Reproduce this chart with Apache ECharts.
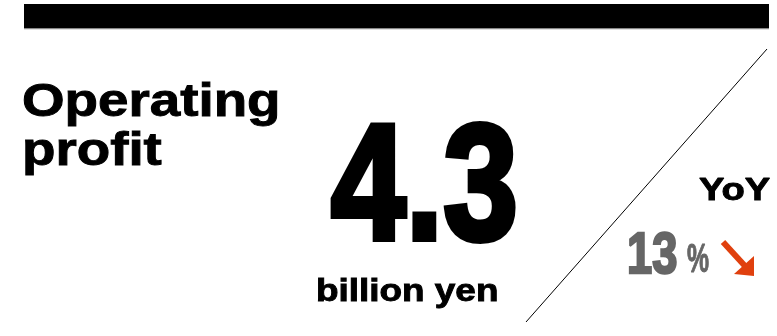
<!DOCTYPE html>
<html>
<head>
<meta charset="utf-8">
<script src="https://cdn.jsdelivr.net/npm/echarts@6/dist/echarts.min.js"></script>
<style>
html,body{margin:0;padding:0;background:#fff;}
#chart{width:777px;height:336px;}
</style>
</head>
<body>
<div id="chart"></div>
<script>
// Data
const titleLines = ['Operating', 'profit'];
const mainValue = [4.3];
const unitLabel = ['billion yen'];
const yoyLabel = ['YoY'];
const yoyValue = [13];
const yoyUnit = ['%'];

const chart = echarts.init(document.getElementById('chart'), null, {renderer: 'canvas'});
const sans = 'Liberation Sans';
const wide = 1.19;

function label(text, x, y, size, extra) {
  return Object.assign({
    type: 'text', x: x, y: y, scaleX: wide,
    style: {text: text, font: 'bold ' + size + 'px "' + sans + '"', fill: '#000', stroke: '#000', lineWidth: 0.9,
      verticalAlign: 'middle', textAlign: 'left'}
  }, extra || {});
}

const graphic = [
  // top black band
  {type: 'rect', shape: {x: 24, y: 4, width: 745, height: 24}, style: {fill: '#000'}},
  {type: 'rect', shape: {x: 24, y: 28, width: 745, height: 1.2}, style: {fill: '#888'}},
  // diagonal divider
  {type: 'line', shape: {x1: 767, y1: 49, x2: 526, y2: 322}, style: {stroke: '#000', lineWidth: 1}},
  // title
  label(titleLines[0], 22, 103, 46),
  label(titleLines[1], 22, 152, 46),
  // main value
  {type: 'text', x: 331, y: 193, scaleX: 0.81, style: {text: mainValue[0].toFixed(1), font: 'bold 166px "' + sans + '"', fill: '#000', stroke: '#000', lineWidth: 6, lineJoin: 'miter', verticalAlign: 'middle', textAlign: 'left'}},
  label(unitLabel[0], 316, 292, 31),
  // YoY
  label(yoyLabel[0], 699, 191, 32),
  {type: 'text', x: 627, y: 257, scaleX: 0.78, style: {text: String(yoyValue[0]), font: 'bold 58px "' + sans + '"', fill: '#666', stroke: '#666', lineWidth: 2.5, verticalAlign: 'middle', textAlign: 'left'}},
  {type: 'text', x: 687, y: 261, scaleX: 0.62, style: {text: yoyUnit[0], font: 'bold 40px "' + sans + '"', fill: '#666', stroke: '#666', lineWidth: 1, verticalAlign: 'middle', textAlign: 'left'}},
  // down arrow
  {type: 'line', shape: {x1: 723, y1: 242, x2: 745, y2: 266}, style: {stroke: '#e0400e', lineWidth: 6, lineCap: 'butt'}},
  {type: 'polygon', shape: {points: [[754, 276], [754, 256], [734, 274]]}, style: {fill: '#e0400e'}}
];

chart.setOption({
  animation: false,
  backgroundColor: '#fff',
  graphic: graphic
});
</script>
</body>
</html>
